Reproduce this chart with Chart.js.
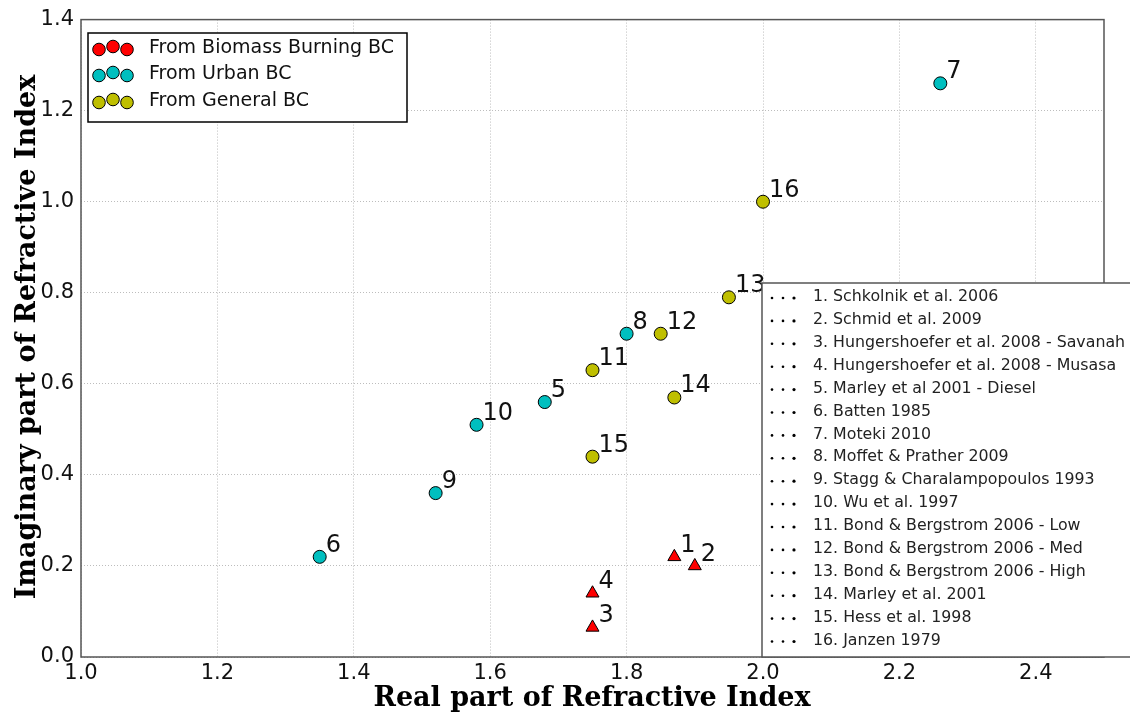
<!DOCTYPE html>
<html>
<head>
<meta charset="utf-8">
<script src="https://cdn.jsdelivr.net/npm/chart.js@4.4.1/dist/chart.umd.min.js"></script>
<style>
  html, body { margin: 0; padding: 0; background: #fff; }
  #wrap { width: 1130px; height: 719px; }
</style>
</head>
<body>
<div id="wrap"><canvas id="refrac" width="1130" height="719"></canvas></div>
<script>
/* BC refractive index compilation: real vs imaginary part, 16 references */

const refIds    = [1, 2, 3, 4, 5, 6, 7, 8, 9, 10, 11, 12, 13, 14, 15, 16];
const realPart  = [1.87, 1.90, 1.75, 1.75, 1.68, 1.35, 2.26, 1.80, 1.52, 1.58, 1.75, 1.85, 1.95, 1.87, 1.75, 2.00];
const imagPart  = [0.22, 0.20, 0.065, 0.14, 0.56, 0.22, 1.26, 0.71, 0.36, 0.51, 0.63, 0.71, 0.79, 0.57, 0.44, 1.00];
const sourceGrp = [0, 0, 0, 0, 1, 1, 1, 1, 1, 1, 2, 2, 2, 2, 2, 2];

const refNames = [
  '1. Schkolnik et al. 2006',
  '2. Schmid et al. 2009',
  '3. Hungershoefer et al. 2008 - Savanah',
  '4. Hungershoefer et al. 2008 - Musasa',
  '5. Marley et al 2001 - Diesel',
  '6. Batten 1985',
  '7. Moteki 2010',
  '8. Moffet & Prather 2009',
  '9. Stagg & Charalampopoulos 1993',
  '10. Wu et al. 1997',
  '11. Bond & Bergstrom 2006 - Low',
  '12. Bond & Bergstrom 2006 - Med',
  '13. Bond & Bergstrom 2006 - High',
  '14. Marley et al. 2001',
  '15. Hess et al. 1998',
  '16. Janzen 1979'
];

const groupNames  = ['From Biomass Burning BC', 'From Urban BC', 'From General BC'];
const groupColors = ['#ff0000', '#00bfbf', '#bfbf00'];
const groupShapes = ['triangle', 'circle', 'circle'];

const xTicks = [1.0, 1.2, 1.4, 1.6, 1.8, 2.0, 2.2, 2.4];
const yTicks = [0.0, 0.2, 0.4, 0.6, 0.8, 1.0, 1.2, 1.4];

const SANS  = '"DejaVu Sans", "Liberation Sans", sans-serif';
const SERIF = '"DejaVu Serif", "Liberation Serif", serif';

const datasets = groupNames.map(function (name, g) {
  const pts = [];
  refIds.forEach(function (id, i) {
    if (sourceGrp[i] === g) pts.push({ x: realPart[i], y: imagPart[i], id: id });
  });
  return {
    label: name,
    data: pts,
    pointStyle: groupShapes[g],
    pointRadius: g === 0 ? 7.5 : 6.5,
    pointHoverRadius: g === 0 ? 7.5 : 6.5,
    backgroundColor: groupColors[g],
    borderColor: '#000',
    borderWidth: 1
  };
});

/* numbers beside each marker, frame, axis titles and both legends */
const decor = {
  id: 'decor',
  beforeDatasetsDraw(chart) {
    const { ctx, chartArea: a } = chart;
    ctx.save();
    ctx.strokeStyle = '#555';
    ctx.lineWidth = 1.5;
    ctx.strokeRect(a.left, a.top, a.right - a.left, a.bottom - a.top);
    ctx.restore();
  },
  afterDraw(chart) {
    const { ctx, scales } = chart;
    const xs = scales.x, ys = scales.y;
    ctx.save();

    // point numbers
    ctx.fillStyle = '#111';
    ctx.font = '24px ' + SANS;
    ctx.textAlign = 'left';
    ctx.textBaseline = 'alphabetic';
    refIds.forEach(function (id, i) {
      const px = xs.getPixelForValue(realPart[i]);
      const py = ys.getPixelForValue(imagPart[i]);
      ctx.fillText(String(id), px + 6, py - 5);
    });

    // axis titles
    ctx.fillStyle = '#000';
    ctx.font = 'bold 27px ' + SERIF;
    ctx.textAlign = 'center';
    ctx.textBaseline = 'middle';
    ctx.fillText('Real part of Refractive Index', 592, 699);
    ctx.save();
    ctx.translate(28, 337);
    ctx.rotate(-Math.PI / 2);
    ctx.fillText('Imaginary part of Refractive Index', 0, 0);
    ctx.restore();

    // group legend (top left)
    ctx.fillStyle = '#fff';
    ctx.fillRect(88, 33, 319, 89);
    ctx.strokeStyle = '#000';
    ctx.lineWidth = 1.5;
    ctx.strokeRect(88, 33, 319, 89);
    const rowY = [48, 74, 101];
    const offs = [[99, 1.5], [113, -1.5], [127, 1.5]];
    groupNames.forEach(function (name, g) {
      offs.forEach(function (o) {
        ctx.beginPath();
        ctx.arc(o[0], rowY[g] + o[1], 6.3, 0, Math.PI * 2);
        ctx.fillStyle = groupColors[g];
        ctx.fill();
        ctx.lineWidth = 1;
        ctx.strokeStyle = '#000';
        ctx.stroke();
      });
      ctx.fillStyle = '#111';
      ctx.font = '19px ' + SANS;
      ctx.textAlign = 'left';
      ctx.textBaseline = 'middle';
      ctx.fillText(name, 149, rowY[g]);
    });

    // reference legend (bottom right)
    ctx.fillStyle = '#fff';
    ctx.fillRect(762, 283, 400, 374);
    ctx.strokeStyle = '#555';
    ctx.lineWidth = 1.5;
    ctx.strokeRect(762, 283, 400, 374);
    ctx.font = '15.8px ' + SANS;
    refNames.forEach(function (name, i) {
      const y = 297 + i * 22.9;
      [772, 783, 794].forEach(function (dx, k) {
        ctx.beginPath();
        ctx.arc(dx, y + 1, k === 2 ? 1.6 : 1.3, 0, Math.PI * 2);
        ctx.fillStyle = '#000';
        ctx.fill();
      });
      ctx.fillStyle = '#222';
      ctx.fillText(name, 813, y);
    });
    ctx.restore();
  }
};

new Chart(document.getElementById('refrac'), {
  type: 'scatter',
  data: { datasets: datasets },
  plugins: [decor],
  options: {
    responsive: false,
    animation: false,
    layout: { padding: { top: 18, right: 26, left: 0, bottom: 0 } },
    plugins: {
      legend: { display: false },
      tooltip: { enabled: false }
    },
    scales: {
      x: {
        type: 'linear',
        min: 1.0,
        max: 2.5,
        afterFit: (s) => { s.height = 62; },
        afterBuildTicks: (s) => { s.ticks = xTicks.map((v) => ({ value: v })); },
        grid: { color: '#bdbdbd', lineWidth: 1, drawTicks: false },
        border: { display: false, dash: [1, 2] },
        ticks: {
          color: '#111',
          padding: 4,
          maxRotation: 0,
          font: { family: SANS, size: 21 },
          callback: (v) => Number(v).toFixed(1)
        }
      },
      y: {
        type: 'linear',
        min: 0,
        max: 1.4,
        afterFit: (s) => { s.width = 81; },
        afterBuildTicks: (s) => { s.ticks = yTicks.map((v) => ({ value: v })); },
        grid: { color: '#bdbdbd', lineWidth: 1, drawTicks: false },
        border: { display: false, dash: [1, 2] },
        ticks: {
          color: '#111',
          padding: 7,
          font: { family: SANS, size: 21 },
          callback: (v) => Number(v).toFixed(1)
        }
      }
    }
  }
});
</script>
</body>
</html>
